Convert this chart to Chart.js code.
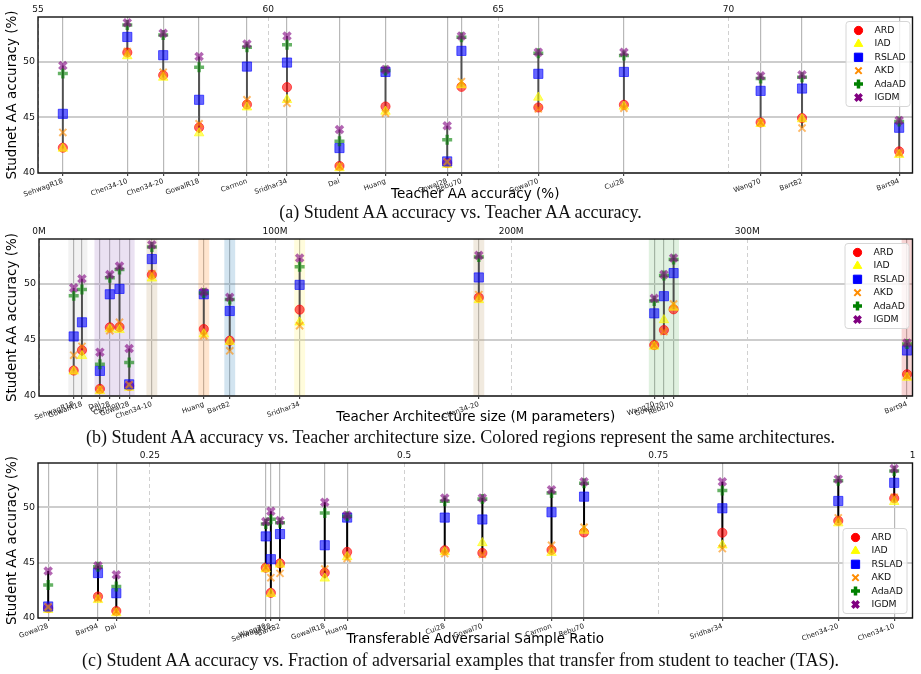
<!DOCTYPE html>
<html>
<head>
<meta charset="utf-8">
<script src="https://cdn.jsdelivr.net/npm/chart.js@4.4.1/dist/chart.umd.min.js"></script>
<style>
  body { margin: 0; background: #fff; width: 921px; height: 674px; position: relative; overflow: hidden; }
  canvas { position: absolute; left: 0; }
  .cap { position: absolute; left: 0; width: 921px; text-align: center; font-family: "Liberation Serif", serif;
         font-size: 18px; line-height: 20px; color: #111; white-space: nowrap; }
</style>
</head>
<body>
<canvas id="pa" width="921" height="204" style="top:0px"></canvas>
<div class="cap" style="top:202px">(a) Student AA accuracy vs. Teacher AA accuracy.</div>
<canvas id="pb" width="921" height="205" style="top:222px"></canvas>
<div class="cap" style="top:427px">(b) Student AA accuracy vs. Teacher architecture size. Colored regions represent the same architectures.</div>
<canvas id="pc" width="921" height="203" style="top:446px"></canvas>
<div class="cap" style="top:650px">(c) Student AA accuracy vs. Fraction of adversarial examples that transfer from student to teacher (TAS).</div>
<script>
// teachers and where each one sits on the three x axes
const teachers = ['SehwagR18', 'Chen34-10', 'Chen34-20', 'GowalR18', 'Carmon', 'Sridhar34', 'Dai', 'Huang',
  'Gowal28', 'Rebu70', 'Gowal70', 'Cui28', 'Wang70', 'Bart82', 'Bart94'];
const teacherAA = [55.54, 56.94, 57.72, 58.50, 59.54, 60.41, 61.55, 62.55, 63.89, 64.20, 65.87, 67.73, 70.70, 71.60, 73.71];
const paramsM = [14.7, 47.8, 186.3, 18.2, 34.1, 110.4, 25.8, 69.8, 38.2, 268.8, 264.7, 30.0, 260.6, 80.8, 367.7];
const tasRatio = [0.369, 0.982, 0.927, 0.422, 0.645, 0.813, 0.217, 0.444, 0.150, 0.677, 0.577, 0.540, 0.364, 0.378, 0.199];
const teacherArch = ['R18', 'WRN-34-10', 'WRN-34-20', 'R18', 'WRN-28-10', 'WRN-34-15', 'WRN-28-10', 'WRN-A4',
  'WRN-28-10', 'WRN-70-16', 'WRN-70-16', 'WRN-28-10', 'WRN-70-16', 'WRN-82-8', 'WRN-94-16'];

// student AA accuracy (%) per distillation method
const methods = ['ARD', 'IAD', 'RSLAD', 'AKD', 'AdaAD', 'IGDM'];
const accARD = [42.27, 50.81, 48.78, 44.09, 46.15, 47.70, 40.63, 45.97, 40.90, 47.73, 45.88, 46.12, 44.54, 44.93, 41.94];
const accIAD = [42.20, 50.50, 48.57, 43.58, 45.90, 46.57, 40.45, 45.52, 40.75, 47.90, 46.78, 45.97, 44.42, 44.84, 41.64];
const accRSLAD = [45.31, 52.21, 50.57, 46.57, 49.55, 49.91, 42.24, 49.07, 41.04, 50.96, 48.90, 49.07, 47.37, 47.58, 44.06];
const accAKD = [43.64, 50.90, 49.04, 44.42, 46.57, 46.27, 40.60, 45.37, 41.00, 48.20, 45.76, 45.82, 44.54, 44.03, 41.79];
const accAdaAD = [48.93, 53.28, 52.39, 49.49, 51.28, 51.52, 42.84, 49.19, 42.99, 52.18, 50.75, 50.54, 48.48, 48.60, 44.63];
const accIGDM = [49.64, 53.49, 52.54, 50.45, 51.58, 52.30, 43.91, 49.28, 44.24, 52.30, 50.84, 50.84, 48.72, 48.81, 44.72];
const accs = [accARD, accIAD, accRSLAD, accAKD, accAdaAD, accIGDM];

const yTicks = [40, 45, 50];
const aaTicks = [55, 60, 65, 70];
const sizeTicks = [0, 100, 200, 300];
const tasTicks = [0.25, 0.5, 0.75, 1];

const FONT = 'DejaVu Sans';
Chart.defaults.font.family = FONT;
Chart.defaults.color = '#111';

const marks = [
  { rgb: '255,0,0', style: 'circle', r: 4.6, bw: 1 },
  { rgb: '255,255,0', style: 'triangle', r: 5.5, bw: 1 },
  { rgb: '0,0,255', style: 'rect', r: 6.5, bw: 1 },
  { rgb: '255,140,0', style: 'crossRot', r: 5, bw: 2 },
  { rgb: '0,128,0', style: 'cross', r: 5, bw: 3.5 },
  { rgb: '128,0,128', style: 'crossRot', r: 5, bw: 3.5 }
];

const archColors = {
  'R18': 'rgba(127,127,127,0.10)',
  'WRN-28-10': 'rgba(148,103,189,0.20)',
  'WRN-34-10': 'rgba(190,160,110,0.22)',
  'WRN-34-20': 'rgba(190,160,110,0.22)',
  'WRN-A4': 'rgba(255,127,14,0.20)',
  'WRN-82-8': 'rgba(31,119,180,0.20)',
  'WRN-34-15': 'rgba(255,240,60,0.18)',
  'WRN-70-16': 'rgba(44,160,44,0.15)',
  'WRN-94-16': 'rgba(214,39,40,0.20)'
};

const frame = {
  id: 'frame',
  afterDatasetsDraw(chart) {
    const { ctx, chartArea: a } = chart;
    ctx.save();
    ctx.strokeStyle = '#111';
    ctx.lineWidth = 1.4;
    ctx.strokeRect(a.left, a.top, a.right - a.left, a.bottom - a.top);
    ctx.restore();
  }
};

const archShade = {
  id: 'archShade',
  beforeDatasetsDraw(chart, args, o) {
    if (!o || !o.on) return;
    const { ctx, chartArea: a, scales: { x } } = chart;
    const groups = {};
    paramsM.forEach((v, i) => { (groups[teacherArch[i]] = groups[teacherArch[i]] || []).push(v); });
    ctx.save();
    ctx.beginPath();
    ctx.rect(a.left, a.top, a.right - a.left, a.bottom - a.top);
    ctx.clip();
    for (const g in groups) {
      const lo = x.getPixelForValue(Math.min(...groups[g]) - o.pad);
      const hi = x.getPixelForValue(Math.max(...groups[g]) + o.pad);
      ctx.fillStyle = archColors[g];
      ctx.fillRect(lo, a.top, hi - lo, a.bottom - a.top);
    }
    ctx.restore();
  }
};

const boxLegend = {
  id: 'boxLegend',
  afterDraw(chart, args, o) {
    const { ctx, chartArea: a } = chart;
    const w = 64, h = 85;
    const x0 = a.right - w - o.dx;
    const y0 = o.corner === 'top' ? a.top + o.dy : a.bottom - h - o.dy;
    ctx.save();
    ctx.beginPath();
    ctx.roundRect(x0 + 0.5, y0 + 0.5, w, h, 3);
    ctx.fillStyle = 'rgba(255,255,255,0.8)';
    ctx.fill();
    ctx.strokeStyle = '#d6d6d6';
    ctx.lineWidth = 1;
    ctx.stroke();
    methods.forEach((m, i) => {
      const cy = y0 + 9.5 + i * 13.4;
      const mk = marks[i];
      ctx.fillStyle = 'rgb(' + mk.rgb + ')';
      ctx.strokeStyle = 'rgb(' + mk.rgb + ')';
      ctx.lineWidth = mk.bw;
      Chart.helpers.drawPoint(ctx, { pointStyle: mk.style, radius: mk.r * 0.9, rotation: 0, borderWidth: mk.bw }, x0 + 13, cy);
      ctx.fillStyle = '#111';
      ctx.font = '9.3px "' + FONT + '"';
      ctx.textBaseline = 'middle';
      ctx.textAlign = 'left';
      ctx.fillText(m, x0 + 29, cy);
    });
    ctx.restore();
  }
};

function rangeData(xs) {
  const pts = [];
  xs.forEach((x, i) => {
    const vals = accs.map(a => a[i]);
    pts.push({ x, y: Math.min(...vals) }, { x, y: Math.max(...vals) }, { x, y: null });
  });
  return pts;
}

function makePanel(id, p) {
  const datasets = [{
    label: 'range',
    data: rangeData(p.xs),
    showLine: true,
    spanGaps: false,
    borderColor: p.lineColor,
    borderWidth: p.lineWidth,
    pointRadius: 0,
    order: 10
  }];
  methods.forEach((m, k) => {
    const mk = marks[k];
    datasets.push({
      label: m,
      data: p.xs.map((x, i) => ({ x, y: accs[k][i] })),
      pointStyle: mk.style,
      pointRadius: mk.r,
      pointBorderWidth: mk.bw,
      pointBackgroundColor: 'rgba(' + mk.rgb + ',0.6)',
      pointBorderColor: 'rgba(' + mk.rgb + ',0.6)',
      clip: false,
      order: 6 - k
    });
  });

  new Chart(document.getElementById(id), {
    type: 'scatter',
    data: { datasets },
    plugins: [archShade, frame, boxLegend],
    options: {
      responsive: false,
      animation: false,
      layout: { padding: { left: 0, right: 8, top: 0, bottom: 0 } },
      plugins: {
        legend: { display: false },
        tooltip: { enabled: false },
        archShade: { on: !!p.shade, pad: 2.3 },
        boxLegend: p.legend
      },
      scales: {
        x: {
          type: 'linear', position: 'bottom', min: p.min, max: p.max,
          afterBuildTicks: s => { s.ticks = p.xs.map(v => ({ value: v })); },
          afterFit: s => { s.height = 31; },
          ticks: {
            autoSkip: false, minRotation: 20, maxRotation: 20, padding: 1,
            font: { size: 7 }, color: '#222',
            callback: (v, i) => teachers[i]
          },
          grid: { color: '#b8b8b8', lineWidth: 1.2, drawTicks: true, tickLength: 3, tickColor: '#444' },
          border: { display: false },
          title: { display: true, text: p.xTitle, font: { size: 13.5 }, color: '#000', padding: { top: 0, bottom: 1 } }
        },
        x2: {
          type: 'linear', position: 'top', min: p.min, max: p.max,
          afterBuildTicks: s => { s.ticks = p.topTicks.map(v => ({ value: v })); },
          afterFit: s => { s.height = 17; },
          ticks: { font: { size: 9 }, color: '#111', padding: 2, callback: p.fmt },
          grid: { color: '#d0d0d0', lineWidth: 1, drawTicks: false },
          border: { display: false, dash: [4, 3] }
        },
        y: {
          type: 'linear', min: 40, max: 54,
          afterBuildTicks: s => { s.ticks = yTicks.map(v => ({ value: v })); },
          afterFit: s => { s.width = p.left; },
          ticks: { font: { size: 9.5 }, color: '#111', padding: 3 },
          grid: { color: '#cdcdcd', lineWidth: 2, drawTicks: false },
          border: { display: false },
          title: { display: true, text: p.yTitle, font: { size: 13.5 }, color: '#000', padding: { top: 4, bottom: 0 } }
        }
      }
    }
  });
}

makePanel('pa', {
  xs: teacherAA, min: 55, max: 74, topTicks: aaTicks, fmt: v => String(v), left: 38,
  xTitle: 'Teacher AA accuracy (%)', yTitle: 'Studnet AA accuracy (%)',
  lineColor: 'rgba(60,60,60,0.85)', lineWidth: 2,
  legend: { corner: 'top', dx: 3, dy: 4 }
});
makePanel('pb', {
  xs: paramsM, min: 0, max: 370, topTicks: sizeTicks, fmt: v => v + 'M', left: 39, shade: true,
  xTitle: 'Teacher Architecture size (M parameters)', yTitle: 'Student AA accuracy (%)',
  lineColor: 'rgba(60,60,60,0.85)', lineWidth: 2,
  legend: { corner: 'top', dx: 4, dy: 4 }
});
makePanel('pc', {
  xs: tasRatio, min: 0.14, max: 1, topTicks: tasTicks, fmt: v => String(v), left: 38,
  xTitle: 'Transferable Adversarial Sample Ratio', yTitle: 'Student AA accuracy (%)',
  lineColor: '#000', lineWidth: 2,
  legend: { corner: 'bottom', dx: 6, dy: 5 }
});
</script>
</body>
</html>
